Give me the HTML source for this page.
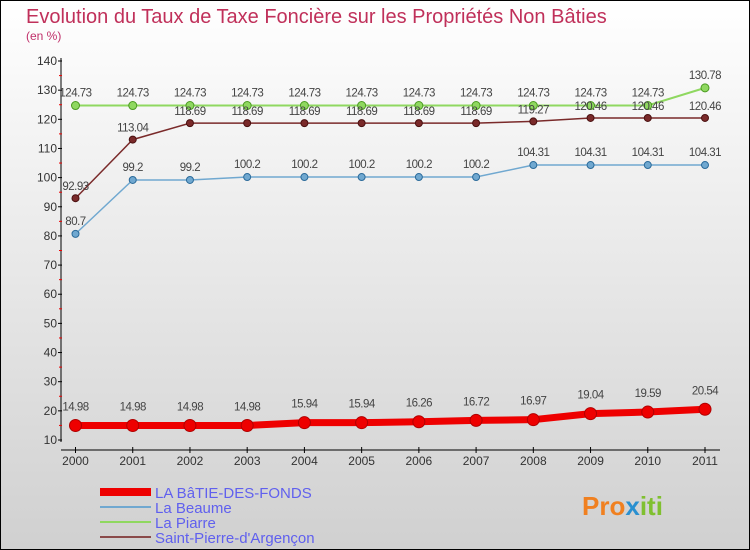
<!DOCTYPE html>
<html><head><meta charset="utf-8"><style>
body{margin:0;width:750px;height:550px;overflow:hidden;font-family:"Liberation Sans",sans-serif}
svg{display:block}
</style></head><body>
<svg id="c" width="750" height="550" xmlns="http://www.w3.org/2000/svg">
<defs><linearGradient id="bg" x1="0" y1="0" x2="0" y2="1"><stop offset="0" stop-color="#ffffff"/><stop offset="1" stop-color="#d0d0d0"/></linearGradient></defs>
<rect x="0.5" y="0.5" width="749" height="549" fill="url(#bg)" stroke="#000"/>
<text x="26" y="23" font-size="20" fill="#c0305a">Evolution du Taux de Taxe Foncière sur les Propriétés Non Bâties</text>
<text x="26" y="40" font-size="12" fill="#c0306a">(en %)</text>
<g id="axes"></g><g id="series"></g><g id="legend"></g>
<text x="582" y="515" font-size="26" font-weight="bold" fill="#f08020">Pro<tspan fill="#2a90d0">x</tspan><tspan fill="#80c030">iti</tspan></text>
</svg>
<script>
const years=[2000,2001,2002,2003,2004,2005,2006,2007,2008,2009,2010,2011];
const yTicks=[10,20,30,40,50,60,70,80,90,100,110,120,130,140];
const bateValues=[14.98,14.98,14.98,14.98,15.94,15.94,16.26,16.72,16.97,19.04,19.59,20.54];
const bateLabels=["14.98","14.98","14.98","14.98","15.94","15.94","16.26","16.72","16.97","19.04","19.59","20.54"];
const beaumeValues=[80.7,99.2,99.2,100.2,100.2,100.2,100.2,100.2,104.31,104.31,104.31,104.31];
const beaumeLabels=["80.7","99.2","99.2","100.2","100.2","100.2","100.2","100.2","104.31","104.31","104.31","104.31"];
const piarreValues=[124.73,124.73,124.73,124.73,124.73,124.73,124.73,124.73,124.73,124.73,124.73,130.78];
const piarreLabels=["124.73","124.73","124.73","124.73","124.73","124.73","124.73","124.73","124.73","124.73","124.73","130.78"];
const spValues=[92.93,113.04,118.69,118.69,118.69,118.69,118.69,118.69,119.27,120.46,120.46,120.46];
const spLabels=["92.93","113.04","118.69","118.69","118.69","118.69","118.69","118.69","119.27","120.46","120.46","120.46"];
const NS="http://www.w3.org/2000/svg";
const xS=i=>75.5+i*(705-75.5)/(years.length-1);
const yS=v=>440-(v-10)*(440-61)/130;
function mk(p,t,a){const e=document.createElementNS(NS,t);for(const k in a)e.setAttribute(k,a[k]);p.appendChild(e);return e;}
const ax=document.getElementById('axes');
let l=mk(ax,'line',{x1:61,y1:58,x2:61,y2:442,stroke:'#000'});


l=mk(ax,'line',{x1:61,y1:450,x2:720,y2:450,stroke:'#000'});


yTicks.forEach((v,i)=>{const y=yS(v);
 mk(ax,'line',{x1:58,y1:y,x2:62,y2:y,stroke:'#000'});
 if(i<yTicks.length-1)mk(ax,'line',{x1:59,y1:yS(v+5),x2:62,y2:yS(v+5),stroke:'#e00'});
 const t=mk(ax,'text',{x:57,y:y+4,'font-size':12,fill:'#333','text-anchor':'end'});t.textContent=v;
 
 });
years.forEach((yr,i)=>{const x=xS(i);
 mk(ax,'line',{x1:x,y1:447,x2:x,y2:453,stroke:'#000'});
 const t=mk(ax,'text',{x:x,y:465,'font-size':12,fill:'#333','text-anchor':'middle'});t.textContent=yr;
 
 });
const sg=document.getElementById('series');
function series(vals,labs,col,dark,w,r,name,dy){
 const g=mk(sg,'g',{});
 
 
 mk(g,'polyline',{points:vals.map((v,i)=>xS(i)+','+yS(v)).join(' '),fill:'none',stroke:col,'stroke-width':w});
 vals.forEach((v,i)=>{const c=mk(g,'circle',{cx:xS(i),cy:yS(v),r:r,fill:col,stroke:dark,'stroke-width':1});
  
  
  const t=mk(g,'text',{x:xS(i),y:yS(v)+dy,'font-size':11.5,fill:'#444','text-anchor':'middle','letter-spacing':'-0.5'});t.textContent=labs[i];
  
  });
}
series(piarreValues,piarreLabels,'#8fd860','#4a9a20',2,4,'series-la-piarre',-9);
series(spValues,spLabels,'#7a2a2a','#4a1010',1.5,3.5,'series-saint-pierre',-8);
series(beaumeValues,beaumeLabels,'#70a8d0','#2a6a9a',1.5,3.5,'series-la-beaume',-9);
series(bateValues,bateLabels,'#ee0000','#b00000',7,6,'series-la-batie',-15);
const lg=document.getElementById('legend');
[['LA BâTIE-DES-FONDS','#ee0000',8],['La Beaume','#70a8d0',2],['La Piarre','#8fd860',2],["Saint-Pierre-d'Argençon",'#8a4a4a',2]].forEach((e,i)=>{
 const y=492+i*15;
 const g=mk(lg,'g',{});
 
 
 mk(g,'line',{x1:100,y1:y,x2:151,y2:y,stroke:e[1],'stroke-width':e[2]});
 const t=mk(g,'text',{x:155,y:y+6,'font-size':15,fill:'#6060ee'});t.textContent=e[0];
});
</script>
</body></html>
